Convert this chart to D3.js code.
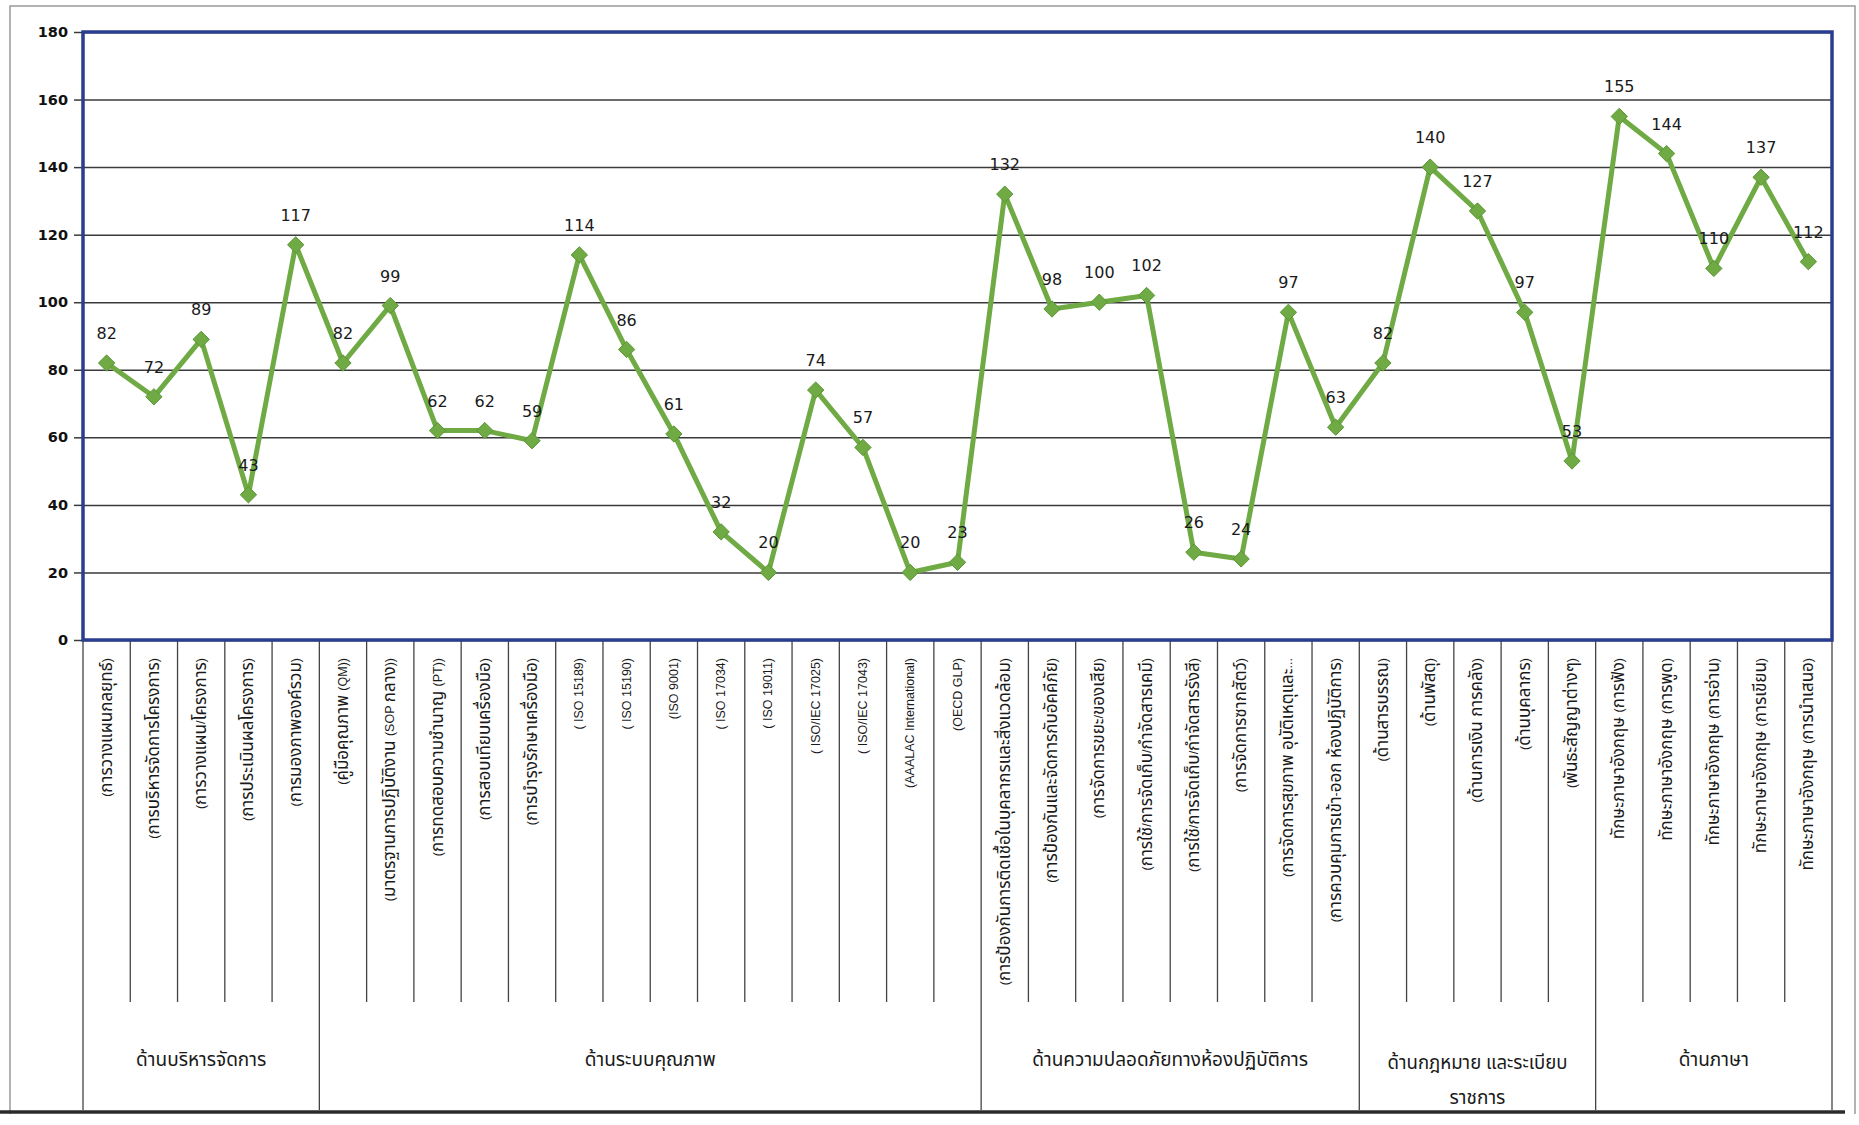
<!DOCTYPE html>
<html><head><meta charset="utf-8">
<script src="https://cdn.jsdelivr.net/npm/d3@7"></script>
<style>
html,body{margin:0;padding:0;background:#fff;}
svg{display:block;}
</style></head>
<body>
<svg id="chart" width="1859" height="1125"></svg>
<script>
const categories = [
  "(การวางแผนกลยุทธ์)","(การบริหารจัดการโครงการ)","(การวางแผน/โครงการ)","(การประเมินผลโครงการ)","(การมองภาพองค์รวม)",
  "(คู่มือคุณภาพ (QM))","(มาตรฐานการปฏิบัติงาน (SOP กลาง))","(การทดสอบความชำนาญ (PT))","(การสอบเทียบเครื่องมือ)","(การบำรุงรักษาเครื่องมือ)",
  "( ISO 15189)","( ISO 15190)","(ISO 9001)","( ISO 17034)","( ISO 19011)","( ISO/IEC 17025)","( ISO/IEC 17043)","(AAALAC International)","(OECD GLP)",
  "(การป้องกันการติดเชื้อในบุคลากรและสิ่งแวดล้อม)","(การป้องกันและจัดการกับอัคคีภัย)","(การจัดการขยะ/ของเสีย)","(การใช้/การจัดเก็บ/กำจัดสารเคมี)","(การใช้/การจัดเก็บ/กำจัดสารรังสี)","(การจัดการซากสัตว์)","(การจัดการสุขภาพ อุบัติเหตุและ...","(การควบคุมการเข้า-ออก ห้องปฏิบัติการ)",
  "(ด้านสารบรรณ)","(ด้านพัสดุ)","(ด้านการเงิน การคลัง)","(ด้านบุคลากร)","(พันธะสัญญาต่างๆ)",
  "ทักษะภาษาอังกฤษ (การฟัง)","ทักษะภาษาอังกฤษ (การพูด)","ทักษะภาษาอังกฤษ (การอ่าน)","ทักษะภาษาอังกฤษ (การเขียน)","ทักษะภาษาอังกฤษ (การนำเสนอ)"
];
const values = [82,72,89,43,117, 82,99,62,62,59,114,86,61,32,20,74,57,20,23, 132,98,100,102,26,24,97,63, 82,140,127,97,53, 155,144,110,137,112];
const groups = ["ด้านบริหารจัดการ","ด้านระบบคุณภาพ","ด้านความปลอดภัยทางห้องปฏิบัติการ","ด้านกฎหมาย และระเบียบ|ราชการ","ด้านภาษา"];
const groupCounts = [5,14,8,5,5];
const yTicks = [0,20,40,60,80,100,120,140,160,180];

const svg = d3.select("#chart");
const L = 83, R = 1832, T = 32, B = 640;
const catBottom = 1002, groupBottom = 1110;
const thai = "'Noto Sans Thai','Noto Sans','DejaVu Sans',sans-serif";
const latin = "'Liberation Sans Narrow','Liberation Sans',Arial,sans-serif";

const x = d3.scaleBand().domain(d3.range(categories.length)).range([L, R]).padding(0);
const y = d3.scaleLinear().domain([0, 180]).range([B, T]);

// outer frame
svg.append("path").attr("d", `M10,${groupBottom+4} L10,6 L1855,6 L1855,${groupBottom+4}`)
  .attr("fill","none").attr("stroke","#9a9a9a").attr("stroke-width",1.5);

// gridlines
svg.append("g").attr("transform",`translate(${L},0)`)
  .call(d3.axisLeft(y).tickValues(yTicks).tickSize(-(R-L)).tickFormat(""))
  .call(g=>g.select(".domain").remove())
  .call(g=>g.selectAll("line").attr("stroke","#3a3a3a").attr("stroke-width",1.5));

// y axis labels + ticks
svg.append("g").attr("transform",`translate(${L},0)`)
  .call(d3.axisLeft(y).tickValues(yTicks).tickSize(9).tickPadding(6))
  .call(g=>g.select(".domain").remove())
  .call(g=>g.selectAll("line").attr("stroke","#3a3a3a").attr("stroke-width",1.5))
  .call(g=>g.selectAll("text").attr("font-family","'DejaVu Sans',Verdana,sans-serif").attr("font-size",14.5).attr("font-weight",600).attr("fill","#111"));

// category separators
const bounds = d3.range(categories.length + 1).map(i => i < categories.length ? x(i) : R);
const groupBounds = [0];
groupCounts.forEach((c,i)=>groupBounds.push(groupBounds[i]+c));
svg.append("g").selectAll("line").data(bounds.map((b,i)=>({b,i}))).join("line")
  .attr("x1",d=>d.b).attr("x2",d=>d.b).attr("y1",B)
  .attr("y2",d=> groupBounds.includes(d.i) ? groupBottom : catBottom)
  .attr("stroke","#444").attr("stroke-width",1.3);

// category labels, Thai runs larger than Latin runs
function runs(s){
  const out=[]; let cur="", curT=null;
  for(const ch of s){
    const t = /[\u0E00-\u0E7F]/.test(ch) ? true : (/[ ]/.test(ch) && curT!==null ? curT : false);
    if(curT===null || t===curT){ cur+=ch; curT=t; }
    else { out.push({t:curT,s:cur}); cur=ch; curT=t; }
  }
  if(cur) out.push({t:curT,s:cur});
  return out;
}
svg.append("g").selectAll("text").data(categories).join("text")
  .attr("transform",(d,i)=>`translate(${x(i)+x.bandwidth()/2},${B+18}) rotate(-90)`)
  .attr("text-anchor","end").attr("dominant-baseline","central")
  .attr("fill","#1a1a1a")
  .each(function(d){
    const t = d3.select(this);
    runs(d).forEach(r=>{
      t.append("tspan").attr("font-family", r.t?thai:latin)
        .attr("font-size", r.t?17:12.5).text(r.s);
    });
  });

// group labels
groups.forEach((g,i)=>{
  const x0 = i===0 ? L : x(groupBounds[i]);
  const x1 = groupBounds[i+1] < categories.length ? x(groupBounds[i+1]) : R;
  const cx = (x0+x1)/2;
  const lines = g.split("|");
  const t = svg.append("text").attr("x",cx).attr("text-anchor","middle")
    .attr("font-family",thai).attr("font-size",19).attr("fill","#1a1a1a");
  if(lines.length===1){ t.attr("y",1066).text(lines[0]); }
  else {
    t.append("tspan").attr("x",cx).attr("y",1069).attr("textLength",180).attr("lengthAdjust","spacingAndGlyphs").text(lines[0]);
    t.append("tspan").attr("x",cx).attr("y",1104).text(lines[1]);
  }
});

// bottom thick line
svg.append("line").attr("x1",0).attr("x2",1845).attr("y1",groupBottom+2).attr("y2",groupBottom+2)
  .attr("stroke","#2b2b2b").attr("stroke-width",3.5);

// plot border (blue)
svg.append("rect").attr("x",L).attr("y",T).attr("width",R-L).attr("height",B-T)
  .attr("fill","none").attr("stroke","#2b3d8f").attr("stroke-width",3.5);

// line
const cx = i => x(i)+x.bandwidth()/2;
svg.append("path").datum(values)
  .attr("d", d3.line().x((d,i)=>cx(i)).y(d=>y(d)))
  .attr("fill","none").attr("stroke","#6faa44").attr("stroke-width",5).attr("stroke-linejoin","round");

// markers
svg.append("g").selectAll("path").data(values).join("path")
  .attr("transform",(d,i)=>`translate(${cx(i)},${y(d)})`)
  .attr("d", d3.symbol().type(d3.symbolDiamond2).size(170))
  .attr("fill","#6faa44").attr("stroke","#5a9634").attr("stroke-width",1);

// data labels
svg.append("g").selectAll("text").data(values).join("text")
  .attr("x",(d,i)=>cx(i)).attr("y",d=>y(d)-24)
  .attr("text-anchor","middle")
  .attr("font-family","'DejaVu Sans',Verdana,sans-serif").attr("font-size",16).attr("fill","#1a1a1a")
  .text(d=>d);
</script>
</body></html>
